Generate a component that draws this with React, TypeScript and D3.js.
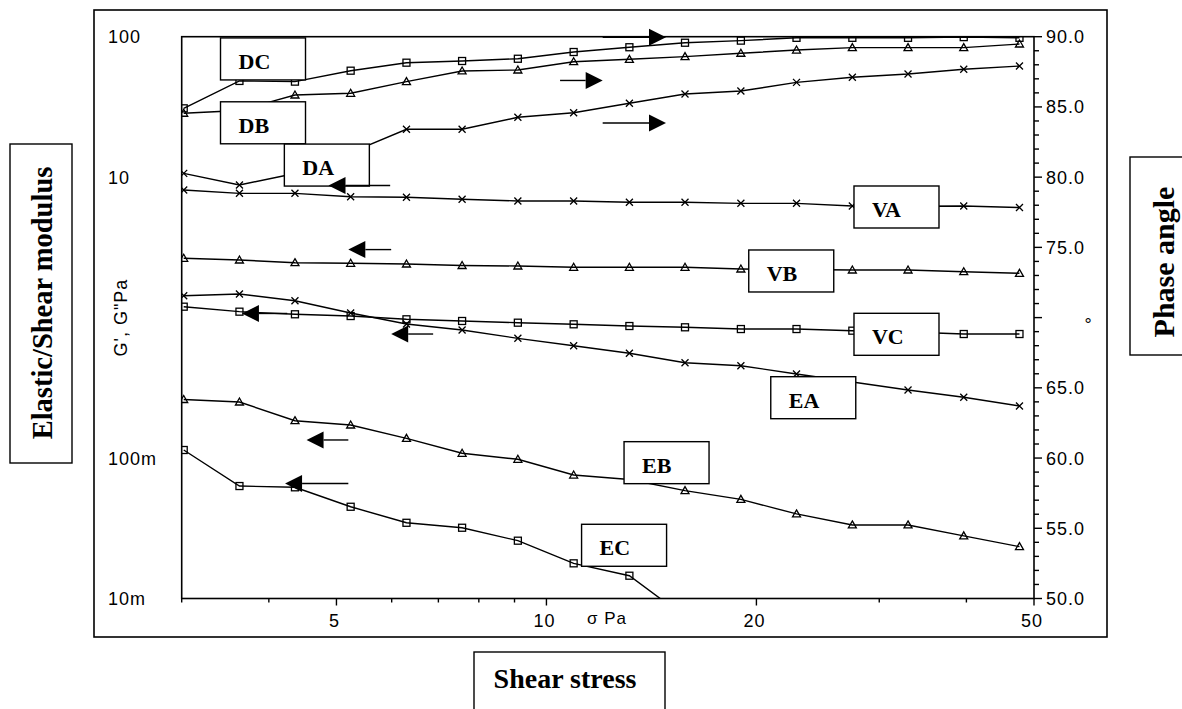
import React, { useEffect, useRef } from "react";
import * as d3 from "d3";

// ---- data ----
const stress = [3.02, 3.63, 4.36, 5.24, 6.3, 7.57, 9.1, 10.94, 13.15, 15.8, 19.0, 22.83, 27.45, 32.99, 39.65, 47.66];

// phase angle (deg), right axis
const DC = [84.9, 86.85, 86.8, 87.58, 88.15, 88.27, 88.43, 88.91, 89.25, 89.57, 89.72, 89.92, 89.92, 89.92, 89.97, 89.92];
const DB = [84.55, 84.75, 85.85, 85.97, 86.8, 87.56, 87.63, 88.22, 88.39, 88.58, 88.82, 89.05, 89.22, 89.22, 89.22, 89.48];
const DA = [80.27, 79.44, 80.26, 81.74, 83.41, 83.41, 84.26, 84.59, 85.26, 85.92, 86.13, 86.75, 87.11, 87.34, 87.68, 87.91];

// moduli (Pa), left axis
const VA = [8.1, 7.67, 7.67, 7.26, 7.19, 6.96, 6.77, 6.77, 6.62, 6.62, 6.51, 6.51, 6.23, 6.2, 6.23, 6.08];
const VB = [2.644, 2.572, 2.46, 2.436, 2.408, 2.35, 2.33, 2.281, 2.281, 2.281, 2.218, 2.2, 2.183, 2.183, 2.122, 2.067];
const VC = [1.196, 1.102, 1.056, 1.026, 0.9725, 0.946, 0.92, 0.896, 0.871, 0.853, 0.829, 0.829, 0.807, 0.79, 0.764, 0.764];
const EA = [1.432, 1.472, 1.319, 1.078, 0.9, 0.816, 0.712, 0.631, 0.557, 0.4775, 0.4545, 0.3966, 0.348, 0.305, 0.2707, 0.2348];
const EB = [0.2612, 0.2506, 0.1845, 0.1719, 0.1382, 0.1081, 0.098, 0.0757, 0.0704, 0.0586, 0.0508, 0.04, 0.0334, 0.0334, 0.0279, 0.0234];
const EC = [0.1141, 0.0632, 0.0619, 0.045, 0.0346, 0.0319, 0.0258, 0.0178, 0.01453, 0.0074];

const seriesNames = ["DC", "DB", "DA", "VA", "VB", "VC", "EA", "EB", "EC"];
const seriesValues = [DC, DB, DA, VA, VB, VC, EA, EB, EC];
const seriesAxis = ["right", "right", "right", "left", "left", "left", "left", "left", "left"];
const seriesMarker = ["square", "triangle", "cross", "cross", "triangle", "square", "cross", "triangle", "square"];

// label boxes: top-left corner in data space (stress, Pa)
const boxStress = [3.41, 3.41, 4.21, 27.6, 19.5, 27.6, 20.97, 12.92, 11.23];
const boxModulus = [98, 34.4, 17.2, 8.65, 3.03, 1.073, 0.3795, 0.1308, 0.03376];

// direction arrows in data space (stress, Pa)
const arrowTail = [12.04, 10.46, 12.04, 5.97, 5.99, 4.25, 6.88, 5.2, 5.2];
const arrowTip = [14.84, 12.04, 14.84, 4.87, 5.2, 3.66, 5.99, 4.53, 4.22];
const arrowLevel = [99.0, 48.8, 24.3, 8.72, 3.05, 1.07, 0.764, 0.1345, 0.0659];

const leftTicks = [100, 10, 0.1, 0.01];
const leftTickLabels = ["100", "10", "100m", "10m"];
const rightTicks = [90, 85, 80, 75, 65, 60, 55, 50];
const xMajor = [5, 10, 20, 50];
const xMinor = [3, 4, 6, 7, 8, 9, 30, 40];

export default function App() {
  const ref = useRef<SVGSVGElement>(null);

  useEffect(() => {
    const svg = d3.select(ref.current);
    svg.selectAll("*").remove();
    const W = 1182, H = 709;
    const L = 181.7, R = 1034, T = 36.7, B = 598.5;
    const sans = "'Liberation Sans', Arial, sans-serif";
    const serif = "'Liberation Serif', 'Times New Roman', serif";

    svg.append("rect").attr("width", W).attr("height", H).attr("fill", "#fff");

    const x = d3.scaleLog().domain([3, 50]).range([L, R]);
    const yL = d3.scaleLog().domain([0.01, 100]).range([B, T]);
    const yR = d3.scaleLinear().domain([50, 90]).range([B, T]);

    // outer frame
    svg.append("rect").attr("x", 94).attr("y", 10).attr("width", 1013).attr("height", 627)
      .attr("fill", "none").attr("stroke", "#000").attr("stroke-width", 1.6);

    // clip
    svg.append("defs").append("clipPath").attr("id", "plotclip")
      .append("rect").attr("x", L).attr("y", T).attr("width", R - L).attr("height", B - T);

    const plot = svg.append("g").attr("clip-path", "url(#plotclip)");

    seriesValues.forEach((vals, si) => {
      const ys = seriesAxis[si] === "right" ? yR : yL;
      const pts: [number, number][] = vals.map((v, i) => [x(stress[i]), ys(v)]);
      const line = d3.line();
      plot.append("path").attr("d", line(pts) as string)
        .attr("fill", "none").attr("stroke", "#000").attr("stroke-width", 1.4);
      const m = seriesMarker[si];
      pts.forEach(([px, py]) => {
        if (m === "square") {
          plot.append("rect").attr("x", px - 3.5).attr("y", py - 3.5).attr("width", 7).attr("height", 7)
            .attr("fill", "none").attr("stroke", "#000").attr("stroke-width", 1.3);
        } else if (m === "triangle") {
          plot.append("path").attr("d", `M${px},${py - 4}L${px + 4},${py + 3}L${px - 4},${py + 3}Z`)
            .attr("fill", "none").attr("stroke", "#000").attr("stroke-width", 1.3);
        } else {
          plot.append("path").attr("d", `M${px - 3.5},${py - 3.5}L${px + 3.5},${py + 3.5}M${px - 3.5},${py + 3.5}L${px + 3.5},${py - 3.5}`)
            .attr("fill", "none").attr("stroke", "#000").attr("stroke-width", 1.3);
        }
      });
    });

    // plot frame
    svg.append("rect").attr("x", L).attr("y", T).attr("width", R - L).attr("height", B - T)
      .attr("fill", "none").attr("stroke", "#000").attr("stroke-width", 1.6);

    // left axis labels
    leftTicks.forEach((v, i) => {
      svg.append("text").attr("x", 108).attr("y", yL(v)).attr("dy", "0.36em")
        .attr("font-family", sans).attr("font-size", 18).attr("letter-spacing", 1)
        .text(leftTickLabels[i]);
    });
    svg.append("text").attr("transform", `translate(127,${yL(1)}) rotate(-90)`)
      .attr("text-anchor", "middle").attr("font-family", sans).attr("font-size", 18).attr("letter-spacing", 1)
      .text("G', G\"Pa");

    // right axis ticks
    d3.range(50, 91).forEach((v) => {
      const len = v % 5 === 0 ? 8 : 5;
      svg.append("line").attr("x1", R).attr("x2", R + len).attr("y1", yR(v)).attr("y2", yR(v))
        .attr("stroke", "#000").attr("stroke-width", 1.4);
    });
    rightTicks.forEach((v) => {
      svg.append("text").attr("x", 1046).attr("y", yR(v)).attr("dy", "0.36em")
        .attr("font-family", sans).attr("font-size", 18).attr("letter-spacing", 1)
        .text(d3.format(".1f")(v));
    });
    svg.append("text").attr("x", 1088).attr("y", yR(70)).attr("dy", "0.75em").attr("text-anchor", "middle")
      .attr("font-family", sans).attr("font-size", 18).text("°");

    // bottom ticks
    xMajor.forEach((v) => {
      svg.append("line").attr("x1", x(v)).attr("x2", x(v)).attr("y1", B).attr("y2", B + 7)
        .attr("stroke", "#000").attr("stroke-width", 1.4);
      svg.append("text").attr("x", x(v) - 2).attr("y", 627).attr("text-anchor", "middle")
        .attr("font-family", sans).attr("font-size", 18).attr("letter-spacing", 1).text(String(v));
    });
    xMinor.forEach((v) => {
      svg.append("line").attr("x1", x(v)).attr("x2", x(v)).attr("y1", B).attr("y2", B + 4)
        .attr("stroke", "#000").attr("stroke-width", 1.4);
    });
    svg.append("text").attr("x", 587).attr("y", 624)
      .attr("font-family", sans).attr("font-size", 17).attr("letter-spacing", 1).text("σ Pa");

    // series label boxes
    seriesNames.forEach((n, i) => {
      const bx = x(boxStress[i]), by = yL(boxModulus[i]);
      svg.append("rect").attr("x", bx).attr("y", by).attr("width", 85).attr("height", 42)
        .attr("fill", "#fff").attr("stroke", "#000").attr("stroke-width", 1.4);
      svg.append("text").attr("x", bx + 18).attr("y", by + 31)
        .attr("font-family", serif).attr("font-weight", "bold").attr("font-size", 22).text(n);
    });

    // arrows (on top of boxes)
    arrowTail.forEach((t, i) => {
      const x0 = x(t), x1 = x(arrowTip[i]), yy = yL(arrowLevel[i]);
      const dir = x1 > x0 ? 1 : -1;
      const hl = 17, hh = 8.5;
      svg.append("line").attr("x1", x0).attr("x2", x1 - dir * hl).attr("y1", yy).attr("y2", yy)
        .attr("stroke", "#000").attr("stroke-width", 1.4);
      svg.append("path").attr("d", `M${x1},${yy}L${x1 - dir * hl},${yy - hh}L${x1 - dir * hl},${yy + hh}Z`)
        .attr("fill", "#000");
    });

    // outer axis titles
    svg.append("rect").attr("x", 10).attr("y", 144).attr("width", 62).attr("height", 319)
      .attr("fill", "#fff").attr("stroke", "#000").attr("stroke-width", 1.4);
    svg.append("text").attr("transform", `translate(52,303) rotate(-90)`).attr("text-anchor", "middle")
      .attr("font-family", serif).attr("font-weight", "bold").attr("font-size", 28.5).text("Elastic/Shear modulus");

    svg.append("rect").attr("x", 1130).attr("y", 157).attr("width", 60).attr("height", 198)
      .attr("fill", "#fff").attr("stroke", "#000").attr("stroke-width", 1.4);
    svg.append("text").attr("transform", `translate(1174,262) rotate(-90)`).attr("text-anchor", "middle")
      .attr("font-family", serif).attr("font-weight", "bold").attr("font-size", 30).text("Phase angle");

    svg.append("rect").attr("x", 474).attr("y", 652).attr("width", 191).attr("height", 70)
      .attr("fill", "#fff").attr("stroke", "#000").attr("stroke-width", 1.4);
    svg.append("text").attr("x", 565).attr("y", 688).attr("text-anchor", "middle")
      .attr("font-family", serif).attr("font-weight", "bold").attr("font-size", 28).text("Shear stress");
  }, []);

  return (
    <svg ref={ref} width={1182} height={709}
      style={{ position: "absolute", left: 0, top: 0, display: "block" }} />
  );
}
